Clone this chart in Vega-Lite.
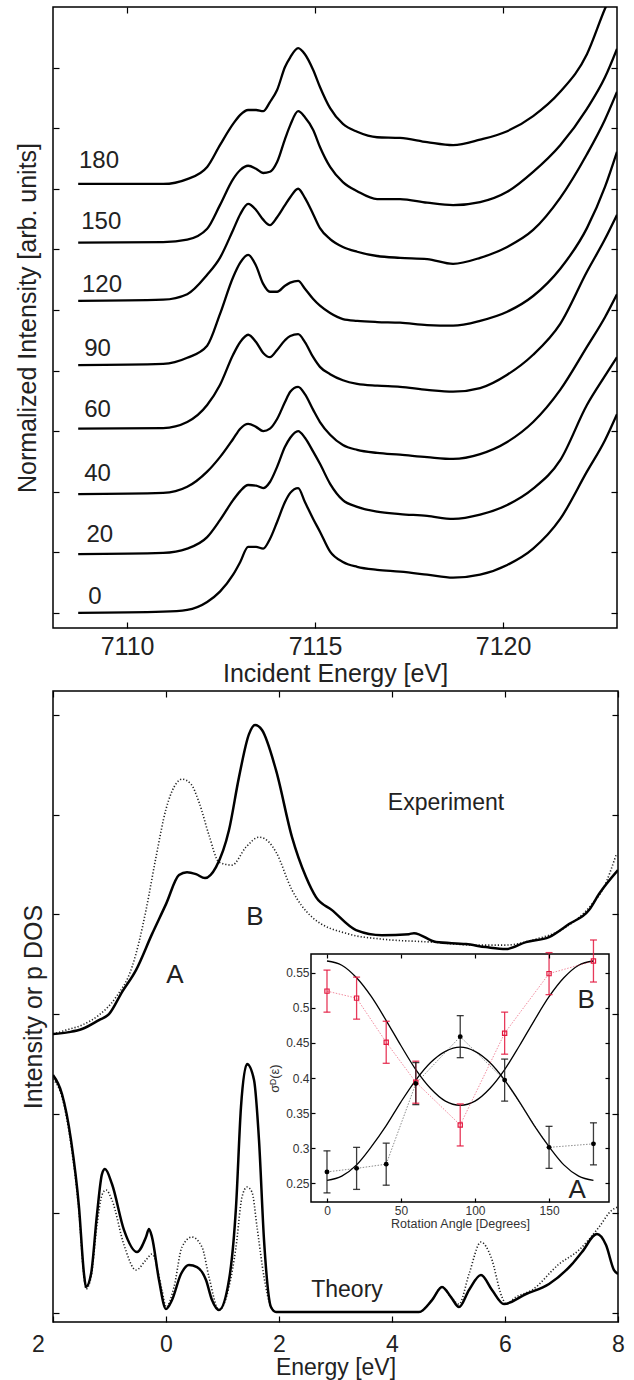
{
"$schema":"https://vega.github.io/schema/vega-lite/v6.json",
"padding":{"left":14,"top":5,"right":0,"bottom":0},
"background":"white",
"spacing":2,
"config":{
 "font":"Liberation Sans",
 "view":{"stroke":"#000","strokeWidth":1.5},
 "axis":{"grid":false,"domainColor":"#000","tickColor":"#000","tickWidth":1.2,"tickSize":-6,"labelColor":"#222","titleColor":"#222","labelFont":"Liberation Sans","titleFont":"Liberation Sans","titleFontWeight":"normal","labelFontSize":25,"titleFontSize":25,"labelFlush":false}
},
"datasets":{
"xanes":[
{"a":"180","e":7108.70,"i":7.08},{"a":"180","e":7110.96,"i":7.08},{"a":"180","e":7111.60,"i":7.16},{"a":"180","e":7112.13,"i":7.36},{"a":"180","e":7112.47,"i":7.72},{"a":"180","e":7112.82,"i":8.07},{"a":"180","e":7113.01,"i":8.22},{"a":"180","e":7113.22,"i":8.30},{"a":"180","e":7113.43,"i":8.30},{"a":"180","e":7113.62,"i":8.28},{"a":"180","e":7113.80,"i":8.43},{"a":"180","e":7113.99,"i":8.63},{"a":"180","e":7114.20,"i":9.01},{"a":"180","e":7114.34,"i":9.17},{"a":"180","e":7114.55,"i":9.32},{"a":"180","e":7114.73,"i":9.22},{"a":"180","e":7114.95,"i":8.96},{"a":"180","e":7115.13,"i":8.68},{"a":"180","e":7115.40,"i":8.33},{"a":"180","e":7115.74,"i":8.07},{"a":"180","e":7116.12,"i":7.94},{"a":"180","e":7116.65,"i":7.85},{"a":"180","e":7117.26,"i":7.84},{"a":"180","e":7117.98,"i":7.77},{"a":"180","e":7118.67,"i":7.72},{"a":"180","e":7119.39,"i":7.81},{"a":"180","e":7120.11,"i":7.95},{"a":"180","e":7120.80,"i":8.20},{"a":"180","e":7121.52,"i":8.60},{"a":"180","e":7122.23,"i":9.22},{"a":"180","e":7122.71,"i":9.97},{"a":"180","e":7123.03,"i":10.41},
{"a":"150","e":7108.70,"i":6.11},{"a":"150","e":7110.96,"i":6.12},{"a":"150","e":7111.60,"i":6.16},{"a":"150","e":7112.13,"i":6.34},{"a":"150","e":7112.47,"i":6.73},{"a":"150","e":7112.82,"i":7.16},{"a":"150","e":7113.01,"i":7.31},{"a":"150","e":7113.22,"i":7.38},{"a":"150","e":7113.43,"i":7.33},{"a":"150","e":7113.62,"i":7.26},{"a":"150","e":7113.80,"i":7.28},{"a":"150","e":7113.99,"i":7.44},{"a":"150","e":7114.20,"i":7.82},{"a":"150","e":7114.34,"i":8.05},{"a":"150","e":7114.55,"i":8.28},{"a":"150","e":7114.73,"i":8.18},{"a":"150","e":7114.95,"i":7.97},{"a":"150","e":7115.13,"i":7.69},{"a":"150","e":7115.40,"i":7.36},{"a":"150","e":7115.74,"i":7.11},{"a":"150","e":7116.12,"i":6.96},{"a":"150","e":7116.65,"i":6.83},{"a":"150","e":7117.26,"i":6.83},{"a":"150","e":7117.98,"i":6.77},{"a":"150","e":7118.67,"i":6.73},{"a":"150","e":7119.39,"i":6.78},{"a":"150","e":7120.11,"i":6.95},{"a":"150","e":7120.80,"i":7.28},{"a":"150","e":7121.52,"i":7.72},{"a":"150","e":7122.23,"i":8.32},{"a":"150","e":7122.71,"i":8.84},{"a":"150","e":7123.03,"i":9.31},
{"a":"120","e":7108.70,"i":5.15},{"a":"120","e":7110.96,"i":5.17},{"a":"120","e":7111.60,"i":5.26},{"a":"120","e":7112.13,"i":5.58},{"a":"120","e":7112.47,"i":5.86},{"a":"120","e":7112.82,"i":6.32},{"a":"120","e":7113.01,"i":6.58},{"a":"120","e":7113.22,"i":6.75},{"a":"120","e":7113.43,"i":6.65},{"a":"120","e":7113.62,"i":6.49},{"a":"120","e":7113.80,"i":6.40},{"a":"120","e":7113.99,"i":6.53},{"a":"120","e":7114.20,"i":6.73},{"a":"120","e":7114.34,"i":6.86},{"a":"120","e":7114.55,"i":7.00},{"a":"120","e":7114.73,"i":6.85},{"a":"120","e":7114.95,"i":6.58},{"a":"120","e":7115.13,"i":6.35},{"a":"120","e":7115.40,"i":6.17},{"a":"120","e":7115.74,"i":6.04},{"a":"120","e":7116.12,"i":5.96},{"a":"120","e":7116.65,"i":5.89},{"a":"120","e":7117.26,"i":5.86},{"a":"120","e":7117.98,"i":5.84},{"a":"120","e":7118.67,"i":5.76},{"a":"120","e":7119.39,"i":5.86},{"a":"120","e":7120.11,"i":6.04},{"a":"120","e":7120.80,"i":6.32},{"a":"120","e":7121.52,"i":6.85},{"a":"120","e":7122.23,"i":7.57},{"a":"120","e":7122.71,"i":8.14},{"a":"120","e":7123.03,"i":8.60},
{"a":"90","e":7108.70,"i":4.09},{"a":"90","e":7110.96,"i":4.11},{"a":"90","e":7111.60,"i":4.21},{"a":"90","e":7112.13,"i":4.41},{"a":"90","e":7112.47,"i":4.93},{"a":"90","e":7112.82,"i":5.54},{"a":"90","e":7113.01,"i":5.78},{"a":"90","e":7113.22,"i":5.91},{"a":"90","e":7113.43,"i":5.73},{"a":"90","e":7113.62,"i":5.43},{"a":"90","e":7113.80,"i":5.30},{"a":"90","e":7113.99,"i":5.30},{"a":"90","e":7114.20,"i":5.40},{"a":"90","e":7114.34,"i":5.45},{"a":"90","e":7114.55,"i":5.48},{"a":"90","e":7114.73,"i":5.35},{"a":"90","e":7114.95,"i":5.18},{"a":"90","e":7115.13,"i":5.07},{"a":"90","e":7115.40,"i":4.95},{"a":"90","e":7115.74,"i":4.85},{"a":"90","e":7116.12,"i":4.82},{"a":"90","e":7116.65,"i":4.80},{"a":"90","e":7117.26,"i":4.79},{"a":"90","e":7117.98,"i":4.75},{"a":"90","e":7118.67,"i":4.74},{"a":"90","e":7119.39,"i":4.82},{"a":"90","e":7120.11,"i":4.97},{"a":"90","e":7120.80,"i":5.23},{"a":"90","e":7121.52,"i":5.68},{"a":"90","e":7122.23,"i":6.35},{"a":"90","e":7122.71,"i":7.03},{"a":"90","e":7123.03,"i":7.61},
{"a":"60","e":7108.70,"i":3.04},{"a":"60","e":7110.96,"i":3.05},{"a":"60","e":7111.60,"i":3.15},{"a":"60","e":7112.13,"i":3.43},{"a":"60","e":7112.47,"i":3.76},{"a":"60","e":7112.82,"i":4.26},{"a":"60","e":7113.01,"i":4.47},{"a":"60","e":7113.22,"i":4.59},{"a":"60","e":7113.43,"i":4.47},{"a":"60","e":7113.62,"i":4.29},{"a":"60","e":7113.80,"i":4.22},{"a":"60","e":7113.99,"i":4.34},{"a":"60","e":7114.20,"i":4.50},{"a":"60","e":7114.34,"i":4.57},{"a":"60","e":7114.55,"i":4.60},{"a":"60","e":7114.73,"i":4.47},{"a":"60","e":7114.95,"i":4.22},{"a":"60","e":7115.13,"i":4.06},{"a":"60","e":7115.40,"i":3.94},{"a":"60","e":7115.74,"i":3.84},{"a":"60","e":7116.12,"i":3.78},{"a":"60","e":7116.65,"i":3.75},{"a":"60","e":7117.26,"i":3.73},{"a":"60","e":7117.98,"i":3.68},{"a":"60","e":7118.67,"i":3.65},{"a":"60","e":7119.39,"i":3.71},{"a":"60","e":7120.11,"i":3.93},{"a":"60","e":7120.80,"i":4.26},{"a":"60","e":7121.52,"i":4.77},{"a":"60","e":7122.23,"i":5.63},{"a":"60","e":7122.71,"i":6.17},{"a":"60","e":7123.03,"i":6.57},
{"a":"40","e":7108.70,"i":1.96},{"a":"40","e":7110.96,"i":1.98},{"a":"40","e":7111.60,"i":2.08},{"a":"40","e":7112.13,"i":2.33},{"a":"40","e":7112.47,"i":2.57},{"a":"40","e":7112.82,"i":2.87},{"a":"40","e":7113.01,"i":3.04},{"a":"40","e":7113.22,"i":3.12},{"a":"40","e":7113.43,"i":3.07},{"a":"40","e":7113.62,"i":3.00},{"a":"40","e":7113.80,"i":3.04},{"a":"40","e":7113.99,"i":3.20},{"a":"40","e":7114.20,"i":3.48},{"a":"40","e":7114.34,"i":3.65},{"a":"40","e":7114.55,"i":3.73},{"a":"40","e":7114.73,"i":3.61},{"a":"40","e":7114.95,"i":3.35},{"a":"40","e":7115.13,"i":3.15},{"a":"40","e":7115.40,"i":2.94},{"a":"40","e":7115.74,"i":2.77},{"a":"40","e":7116.12,"i":2.69},{"a":"40","e":7116.65,"i":2.64},{"a":"40","e":7117.26,"i":2.61},{"a":"40","e":7117.98,"i":2.57},{"a":"40","e":7118.67,"i":2.54},{"a":"40","e":7119.39,"i":2.62},{"a":"40","e":7120.11,"i":2.82},{"a":"40","e":7120.80,"i":3.15},{"a":"40","e":7121.52,"i":3.68},{"a":"40","e":7122.23,"i":4.39},{"a":"40","e":7122.71,"i":4.88},{"a":"40","e":7123.03,"i":5.26},
{"a":"20","e":7108.70,"i":0.97},{"a":"20","e":7110.96,"i":0.99},{"a":"20","e":7111.60,"i":1.06},{"a":"20","e":7112.13,"i":1.25},{"a":"20","e":7112.47,"i":1.53},{"a":"20","e":7112.82,"i":1.86},{"a":"20","e":7113.01,"i":2.01},{"a":"20","e":7113.22,"i":2.11},{"a":"20","e":7113.43,"i":2.10},{"a":"20","e":7113.62,"i":2.06},{"a":"20","e":7113.80,"i":2.16},{"a":"20","e":7113.99,"i":2.41},{"a":"20","e":7114.20,"i":2.74},{"a":"20","e":7114.34,"i":2.89},{"a":"20","e":7114.55,"i":3.00},{"a":"20","e":7114.73,"i":2.89},{"a":"20","e":7114.95,"i":2.66},{"a":"20","e":7115.13,"i":2.46},{"a":"20","e":7115.40,"i":2.13},{"a":"20","e":7115.74,"i":1.86},{"a":"20","e":7116.12,"i":1.75},{"a":"20","e":7116.65,"i":1.67},{"a":"20","e":7117.26,"i":1.63},{"a":"20","e":7117.98,"i":1.60},{"a":"20","e":7118.67,"i":1.55},{"a":"20","e":7119.39,"i":1.62},{"a":"20","e":7120.11,"i":1.78},{"a":"20","e":7120.80,"i":2.05},{"a":"20","e":7121.52,"i":2.52},{"a":"20","e":7122.23,"i":3.43},{"a":"20","e":7122.71,"i":3.91},{"a":"20","e":7123.03,"i":4.22},
{"a":"0","e":7108.70,"i":0.00},{"a":"0","e":7110.96,"i":0.02},{"a":"0","e":7111.60,"i":0.05},{"a":"0","e":7112.13,"i":0.18},{"a":"0","e":7112.47,"i":0.35},{"a":"0","e":7112.82,"i":0.63},{"a":"0","e":7113.01,"i":0.84},{"a":"0","e":7113.22,"i":1.09},{"a":"0","e":7113.43,"i":1.09},{"a":"0","e":7113.62,"i":1.06},{"a":"0","e":7113.80,"i":1.22},{"a":"0","e":7113.99,"i":1.50},{"a":"0","e":7114.20,"i":1.83},{"a":"0","e":7114.34,"i":1.98},{"a":"0","e":7114.55,"i":2.06},{"a":"0","e":7114.73,"i":1.83},{"a":"0","e":7114.95,"i":1.55},{"a":"0","e":7115.13,"i":1.34},{"a":"0","e":7115.40,"i":1.01},{"a":"0","e":7115.74,"i":0.84},{"a":"0","e":7116.12,"i":0.76},{"a":"0","e":7116.65,"i":0.71},{"a":"0","e":7117.26,"i":0.68},{"a":"0","e":7117.98,"i":0.63},{"a":"0","e":7118.67,"i":0.58},{"a":"0","e":7119.39,"i":0.63},{"a":"0","e":7120.11,"i":0.79},{"a":"0","e":7120.80,"i":1.06},{"a":"0","e":7121.52,"i":1.55},{"a":"0","e":7122.23,"i":2.33},{"a":"0","e":7122.71,"i":2.85},{"a":"0","e":7123.03,"i":3.28}
],
"xlab":[
{"t":"180","e":7108.72,"i":7.46},{"t":"150","e":7108.78,"i":6.45},{"t":"120","e":7108.80,"i":5.41},{"t":"90","e":7108.86,"i":4.36},{"t":"60","e":7108.86,"i":3.35},{"t":"40","e":7108.86,"i":2.29},{"t":"20","e":7108.92,"i":1.29},{"t":"0","e":7108.97,"i":0.26}
],
"dos":[
{"s":"exp","x":-2.000,"y":2.798},{"s":"exp","x":-1.717,"y":2.818},{"s":"exp","x":-1.487,"y":2.849},{"s":"exp","x":-1.186,"y":2.939},{"s":"exp","x":-1.009,"y":2.999},{"s":"exp","x":-0.779,"y":3.220},{"s":"exp","x":-0.531,"y":3.440},{"s":"exp","x":-0.248,"y":3.801},{"s":"exp","x":0.000,"y":4.102},{"s":"exp","x":0.230,"y":4.393},{"s":"exp","x":0.372,"y":4.423},{"s":"exp","x":0.531,"y":4.403},{"s":"exp","x":0.690,"y":4.363},{"s":"exp","x":0.885,"y":4.473},{"s":"exp","x":1.115,"y":4.845},{"s":"exp","x":1.292,"y":5.376},{"s":"exp","x":1.469,"y":5.807},{"s":"exp","x":1.575,"y":5.898},{"s":"exp","x":1.699,"y":5.848},{"s":"exp","x":1.947,"y":5.446},{"s":"exp","x":2.230,"y":4.774},{"s":"exp","x":2.478,"y":4.373},{"s":"exp","x":2.655,"y":4.172},{"s":"exp","x":2.938,"y":4.042},{"s":"exp","x":3.363,"y":3.842},{"s":"exp","x":3.823,"y":3.791},{"s":"exp","x":4.301,"y":3.801},{"s":"exp","x":4.389,"y":3.811},{"s":"exp","x":4.779,"y":3.721},{"s":"exp","x":5.310,"y":3.701},{"s":"exp","x":5.664,"y":3.671},{"s":"exp","x":6.018,"y":3.651},{"s":"exp","x":6.372,"y":3.721},{"s":"exp","x":6.779,"y":3.771},{"s":"exp","x":7.133,"y":3.902},{"s":"exp","x":7.487,"y":4.042},{"s":"exp","x":7.664,"y":4.203},{"s":"exp","x":8.000,"y":4.443},
{"s":"expd","x":-2.000,"y":2.798},{"s":"expd","x":-1.770,"y":2.838},{"s":"expd","x":-1.487,"y":2.889},{"s":"expd","x":-1.186,"y":2.989},{"s":"expd","x":-0.885,"y":3.169},{"s":"expd","x":-0.602,"y":3.470},{"s":"expd","x":-0.478,"y":3.721},{"s":"expd","x":-0.354,"y":4.042},{"s":"expd","x":-0.177,"y":4.574},{"s":"expd","x":0.000,"y":5.055},{"s":"expd","x":0.142,"y":5.276},{"s":"expd","x":0.283,"y":5.356},{"s":"expd","x":0.442,"y":5.306},{"s":"expd","x":0.584,"y":5.125},{"s":"expd","x":0.761,"y":4.794},{"s":"expd","x":0.938,"y":4.524},{"s":"expd","x":1.168,"y":4.493},{"s":"expd","x":1.416,"y":4.674},{"s":"expd","x":1.646,"y":4.774},{"s":"expd","x":1.823,"y":4.724},{"s":"expd","x":1.947,"y":4.624},{"s":"expd","x":2.230,"y":4.243},{"s":"expd","x":2.584,"y":3.972},{"s":"expd","x":3.239,"y":3.801},{"s":"expd","x":3.823,"y":3.751},{"s":"expd","x":4.708,"y":3.721},{"s":"expd","x":5.487,"y":3.691},{"s":"expd","x":6.018,"y":3.691},{"s":"expd","x":6.478,"y":3.741},{"s":"expd","x":7.080,"y":3.872},{"s":"expd","x":7.540,"y":4.102},{"s":"expd","x":7.752,"y":4.273},{"s":"expd","x":7.965,"y":4.594},
{"s":"th","x":-2.000,"y":2.387},{"s":"th","x":-1.841,"y":2.197},{"s":"th","x":-1.681,"y":1.735},{"s":"th","x":-1.540,"y":1.063},{"s":"th","x":-1.451,"y":0.391},{"s":"th","x":-1.416,"y":0.261},{"s":"th","x":-1.327,"y":0.391},{"s":"th","x":-1.221,"y":0.993},{"s":"th","x":-1.133,"y":1.394},{"s":"th","x":-1.080,"y":1.444},{"s":"th","x":-0.956,"y":1.294},{"s":"th","x":-0.743,"y":0.832},{"s":"th","x":-0.513,"y":0.612},{"s":"th","x":-0.354,"y":0.762},{"s":"th","x":-0.301,"y":0.843},{"s":"th","x":-0.248,"y":0.762},{"s":"th","x":-0.124,"y":0.331},{"s":"th","x":0.000,"y":0.040},{"s":"th","x":0.106,"y":0.130},{"s":"th","x":0.265,"y":0.391},{"s":"th","x":0.407,"y":0.481},{"s":"th","x":0.549,"y":0.461},{"s":"th","x":0.708,"y":0.331},{"s":"th","x":0.814,"y":0.130},{"s":"th","x":0.938,"y":0.030},{"s":"th","x":1.115,"y":0.331},{"s":"th","x":1.239,"y":1.063},{"s":"th","x":1.327,"y":2.066},{"s":"th","x":1.434,"y":2.497},{"s":"th","x":1.558,"y":2.337},{"s":"th","x":1.646,"y":1.735},{"s":"th","x":1.735,"y":0.732},{"s":"th","x":1.858,"y":0.060},{"s":"th","x":1.947,"y":0.010},{"s":"th","x":4.478,"y":0.010},{"s":"th","x":4.708,"y":0.130},{"s":"th","x":4.885,"y":0.261},{"s":"th","x":5.044,"y":0.160},{"s":"th","x":5.186,"y":0.060},{"s":"th","x":5.363,"y":0.231},{"s":"th","x":5.575,"y":0.381},{"s":"th","x":5.770,"y":0.231},{"s":"th","x":5.982,"y":0.090},{"s":"th","x":6.372,"y":0.191},{"s":"th","x":6.779,"y":0.291},{"s":"th","x":7.186,"y":0.491},{"s":"th","x":7.363,"y":0.612},{"s":"th","x":7.628,"y":0.792},{"s":"th","x":7.788,"y":0.682},{"s":"th","x":7.929,"y":0.431},{"s":"th","x":8.000,"y":0.391},
{"s":"thd","x":-2.000,"y":2.347},{"s":"thd","x":-1.841,"y":2.167},{"s":"thd","x":-1.681,"y":1.685},{"s":"thd","x":-1.540,"y":1.013},{"s":"thd","x":-1.451,"y":0.361},{"s":"thd","x":-1.416,"y":0.241},{"s":"thd","x":-1.327,"y":0.361},{"s":"thd","x":-1.221,"y":0.883},{"s":"thd","x":-1.133,"y":1.184},{"s":"thd","x":-1.062,"y":1.234},{"s":"thd","x":-0.956,"y":1.133},{"s":"thd","x":-0.743,"y":0.682},{"s":"thd","x":-0.531,"y":0.431},{"s":"thd","x":-0.354,"y":0.532},{"s":"thd","x":-0.248,"y":0.592},{"s":"thd","x":-0.071,"y":0.231},{"s":"thd","x":0.000,"y":0.060},{"s":"thd","x":0.142,"y":0.261},{"s":"thd","x":0.283,"y":0.662},{"s":"thd","x":0.460,"y":0.762},{"s":"thd","x":0.637,"y":0.662},{"s":"thd","x":0.761,"y":0.361},{"s":"thd","x":0.938,"y":0.030},{"s":"thd","x":1.115,"y":0.261},{"s":"thd","x":1.239,"y":0.662},{"s":"thd","x":1.345,"y":1.163},{"s":"thd","x":1.434,"y":1.264},{"s":"thd","x":1.522,"y":1.214},{"s":"thd","x":1.611,"y":0.863},{"s":"thd","x":1.735,"y":0.361},{"s":"thd","x":1.858,"y":0.060},{"s":"thd","x":1.947,"y":0.010},{"s":"thd","x":4.478,"y":0.010},{"s":"thd","x":4.708,"y":0.130},{"s":"thd","x":4.885,"y":0.261},{"s":"thd","x":5.044,"y":0.160},{"s":"thd","x":5.186,"y":0.090},{"s":"thd","x":5.363,"y":0.391},{"s":"thd","x":5.575,"y":0.712},{"s":"thd","x":5.752,"y":0.562},{"s":"thd","x":5.947,"y":0.160},{"s":"thd","x":6.018,"y":0.090},{"s":"thd","x":6.195,"y":0.160},{"s":"thd","x":6.478,"y":0.231},{"s":"thd","x":6.956,"y":0.491},{"s":"thd","x":7.310,"y":0.632},{"s":"thd","x":7.664,"y":0.863},{"s":"thd","x":7.894,"y":1.033},{"s":"thd","x":8.000,"y":1.063}
],
"words":[{"t":"Experiment","x":4.956,"y":5.115},{"t":"Theory","x":3.204,"y":0.231}],
"letters":[{"t":"A","x":0.159,"y":3.390},{"t":"B","x":1.575,"y":3.972}],
"fit":[
{"c":"A","ang":0,"v":0.254},{"c":"A","ang":10,"v":0.260},{"c":"A","ang":20,"v":0.276},{"c":"A","ang":30,"v":0.302},{"c":"A","ang":40,"v":0.332},{"c":"A","ang":50,"v":0.366},{"c":"A","ang":60,"v":0.397},{"c":"A","ang":70,"v":0.422},{"c":"A","ang":80,"v":0.438},{"c":"A","ang":90,"v":0.444},{"c":"A","ang":100,"v":0.438},{"c":"A","ang":110,"v":0.422},{"c":"A","ang":120,"v":0.397},{"c":"A","ang":130,"v":0.366},{"c":"A","ang":140,"v":0.332},{"c":"A","ang":150,"v":0.302},{"c":"A","ang":160,"v":0.276},{"c":"A","ang":170,"v":0.260},{"c":"A","ang":180,"v":0.254},
{"c":"B","ang":0,"v":0.567},{"c":"B","ang":10,"v":0.561},{"c":"B","ang":20,"v":0.543},{"c":"B","ang":30,"v":0.516},{"c":"B","ang":40,"v":0.482},{"c":"B","ang":50,"v":0.446},{"c":"B","ang":60,"v":0.412},{"c":"B","ang":70,"v":0.385},{"c":"B","ang":80,"v":0.367},{"c":"B","ang":90,"v":0.361},{"c":"B","ang":100,"v":0.367},{"c":"B","ang":110,"v":0.385},{"c":"B","ang":120,"v":0.412},{"c":"B","ang":130,"v":0.446},{"c":"B","ang":140,"v":0.482},{"c":"B","ang":150,"v":0.516},{"c":"B","ang":160,"v":0.543},{"c":"B","ang":170,"v":0.561},{"c":"B","ang":180,"v":0.567}
],
"pts":[
{"c":"B","ang":0,"v":0.524,"lo":0.494,"hi":0.554},{"c":"B","ang":20,"v":0.514,"lo":0.484,"hi":0.544},{"c":"B","ang":40,"v":0.451,"lo":0.421,"hi":0.481},{"c":"B","ang":60,"v":0.394,"lo":0.364,"hi":0.424},{"c":"B","ang":90,"v":0.333,"lo":0.303,"hi":0.363},{"c":"B","ang":120,"v":0.464,"lo":0.434,"hi":0.494},{"c":"B","ang":150,"v":0.549,"lo":0.519,"hi":0.579},{"c":"B","ang":180,"v":0.567,"lo":0.537,"hi":0.597},
{"c":"A","ang":0,"v":0.266,"lo":0.236,"hi":0.296},{"c":"A","ang":20,"v":0.271,"lo":0.241,"hi":0.301},{"c":"A","ang":40,"v":0.277,"lo":0.247,"hi":0.307},{"c":"A","ang":60,"v":0.392,"lo":0.362,"hi":0.422},{"c":"A","ang":90,"v":0.459,"lo":0.429,"hi":0.489},{"c":"A","ang":120,"v":0.397,"lo":0.367,"hi":0.427},{"c":"A","ang":150,"v":0.301,"lo":0.271,"hi":0.331},{"c":"A","ang":180,"v":0.306,"lo":0.276,"hi":0.336}
],
"inlab":[{"t":"B","ang":175,"v":0.511},{"t":"A","ang":169,"v":0.240}]
},
"vconcat":[
{
 "width":564,"height":621,
 "layer":[
  {"layer":[
   {"data":{"name":"xanes"},
    "mark":{"type":"line","clip":true,"color":"#000","strokeWidth":2.3,"interpolate":"monotone"},
    "encoding":{
     "x":{"field":"e","type":"quantitative","scale":{"domain":[7108.03,7123.03],"nice":false,"zero":false},
          "axis":{"orient":"bottom","values":[7110,7115,7120],"format":"d","title":"Incident Energy [eV]","labelPadding":12,"titlePadding":2,"domain":false}},
     "y":{"field":"i","type":"quantitative","scale":{"domain":[-0.25,10],"nice":false,"zero":false},
          "axis":{"orient":"left","values":[0,1,2,3,4,5,6,7,8,9],"labels":false,"title":"Normalized Intensity [arb. units]","titlePadding":12,"domain":false}},
     "detail":{"field":"a","type":"nominal"}}},
   {"data":{"name":"xlab"},
    "mark":{"type":"text","align":"left","baseline":"middle","fontSize":24,"color":"#222"},
    "encoding":{"x":{"field":"e","type":"quantitative"},"y":{"field":"i","type":"quantitative"},"text":{"field":"t","type":"nominal"}}}
  ]},
  {"data":{"values":[{"e":7115,"i":5}]},
   "mark":{"type":"point","opacity":0},
   "encoding":{
    "x":{"field":"e","type":"quantitative","scale":{"domain":[7108.03,7123.03],"nice":false,"zero":false},"axis":{"orient":"top","values":[7110,7115,7120],"labels":false,"title":null,"domain":false}},
    "y":{"field":"i","type":"quantitative","scale":{"domain":[-0.25,10],"nice":false,"zero":false},"axis":{"orient":"right","values":[0,1,2,3,4,5,6,7,8,9],"labels":false,"title":null,"domain":false}}}}
 ],
 "resolve":{"scale":{"x":"independent","y":"independent"}}
},
{
 "width":565,"height":631,
 "layer":[
  {"layer":[
   {"data":{"name":"dos"},
    "transform":[{"filter":"datum.s == 'expd' || datum.s == 'thd'"}],
    "mark":{"type":"line","clip":true,"color":"#222","strokeWidth":1.6,"strokeDash":[1.2,2],"interpolate":"monotone"},
    "encoding":{
     "x":{"field":"x","type":"quantitative","scale":{"domain":[-2,8],"nice":false,"zero":false},
          "axis":{"orient":"bottom","values":[-2,0,2,4,6,8],"labelExpr":"'' + abs(datum.value)","labelOffset":{"condition":{"test":"datum.value == -2","value":-15},"value":0},"title":"Energy [eV]","labelFontSize":23,"titleFontSize":23,"labelPadding":17,"titlePadding":0,"domain":false}},
     "y":{"field":"y","type":"quantitative","scale":{"domain":[-0.09,6.24],"nice":false,"zero":false},
          "axis":{"orient":"left","values":[0,1,2,3,4,5,6],"labels":false,"title":"Intensity or p DOS","titlePadding":6,"domain":false}},
     "detail":{"field":"s","type":"nominal"}}},
   {"data":{"name":"dos"},
    "transform":[{"filter":"datum.s == 'exp' || datum.s == 'th'"}],
    "mark":{"type":"line","clip":true,"color":"#000","strokeWidth":2.5,"interpolate":"monotone"},
    "encoding":{"x":{"field":"x","type":"quantitative"},"y":{"field":"y","type":"quantitative"},"detail":{"field":"s","type":"nominal"}}},
   {"data":{"name":"words"},
    "mark":{"type":"text","fontSize":23,"color":"#222","baseline":"middle"},
    "encoding":{"x":{"field":"x","type":"quantitative"},"y":{"field":"y","type":"quantitative"},"text":{"field":"t","type":"nominal"}}},
   {"data":{"name":"letters"},
    "mark":{"type":"text","fontSize":26,"color":"#222","baseline":"middle"},
    "encoding":{"x":{"field":"x","type":"quantitative"},"y":{"field":"y","type":"quantitative"},"text":{"field":"t","type":"nominal"}}}
  ]},
  {"data":{"values":[{"x":3,"y":3}]},
   "mark":{"type":"point","opacity":0},
   "encoding":{
    "x":{"field":"x","type":"quantitative","scale":{"domain":[-2,8],"nice":false,"zero":false},"axis":{"orient":"top","values":[-2,0,2,4,6,8],"labels":false,"title":null,"domain":false}},
    "y":{"field":"y","type":"quantitative","scale":{"domain":[-0.09,6.24],"nice":false,"zero":false},"axis":{"orient":"right","values":[0,1,2,3,4,5,6],"labels":false,"title":null,"domain":false}}}},
  {"layer":[
   {"data":{"values":[{"x1":-10.8,"x2":190.5,"y1":0.223,"y2":0.577}]},
    "mark":{"type":"rect","fill":"white","stroke":"#000","strokeWidth":1.5},
    "encoding":{
     "x":{"field":"x1","type":"quantitative","scale":{"domain":[-10.8,190.5],"range":[258,556],"nice":false,"zero":false},
          "axis":{"orient":"bottom","offset":-120,"values":[0,50,100,150],"format":"d","title":"Rotation Angle [Degrees]","labelFontSize":12,"titleFontSize":12.5,"tickSize":-4,"labelPadding":7,"titlePadding":1,"zindex":1,"domain":false,"labelColor":"#333","titleColor":"#333"}},
     "x2":{"field":"x2"},
     "y":{"field":"y1","type":"quantitative","scale":{"domain":[0.223,0.577],"range":[511,263],"nice":false,"zero":false},
          "axis":{"orient":"left","offset":-258,"values":[0.25,0.3,0.35,0.4,0.45,0.5,0.55],"format":"~g","title":"σᴰ(ε)","labelFontSize":12,"titleFontSize":13,"tickSize":-4,"labelPadding":6,"titlePadding":4,"zindex":1,"domain":false,"labelColor":"#333","titleColor":"#333"}},
     "y2":{"field":"y2"}}},
   {"data":{"name":"fit"},
    "mark":{"type":"line","color":"#000","strokeWidth":1.3,"interpolate":"monotone"},
    "encoding":{"x":{"field":"ang","type":"quantitative"},"y":{"field":"v","type":"quantitative"},"detail":{"field":"c","type":"nominal"}}},
   {"data":{"name":"pts"},
    "mark":{"type":"line","strokeWidth":1,"strokeDash":[1.5,1.5],"opacity":0.5},
    "encoding":{"x":{"field":"ang","type":"quantitative"},"y":{"field":"v","type":"quantitative"},
     "color":{"field":"c","type":"nominal","scale":{"domain":["A","B"],"range":["#1a1a1a","#e3173e"]},"legend":null}}},
   {"data":{"name":"pts"},
    "mark":{"type":"rule","strokeWidth":1.3,"opacity":0.85},
    "encoding":{"x":{"field":"ang","type":"quantitative"},"y":{"field":"lo","type":"quantitative"},"y2":{"field":"hi"},
     "color":{"field":"c","type":"nominal","legend":null}}},
   {"data":{"name":"pts"},
    "mark":{"type":"tick","orient":"horizontal","size":7,"thickness":1.3,"opacity":0.85},
    "encoding":{"x":{"field":"ang","type":"quantitative"},"y":{"field":"lo","type":"quantitative"},
     "color":{"field":"c","type":"nominal","legend":null}}},
   {"data":{"name":"pts"},
    "mark":{"type":"tick","orient":"horizontal","size":7,"thickness":1.3,"opacity":0.85},
    "encoding":{"x":{"field":"ang","type":"quantitative"},"y":{"field":"hi","type":"quantitative"},
     "color":{"field":"c","type":"nominal","legend":null}}},
   {"data":{"name":"pts"},
    "transform":[{"filter":"datum.c == 'B'"}],
    "mark":{"type":"point","shape":"square","filled":false,"size":18,"strokeWidth":1.2,"color":"#e3173e","opacity":1},
    "encoding":{"x":{"field":"ang","type":"quantitative"},"y":{"field":"v","type":"quantitative"}}},
   {"data":{"name":"pts"},
    "transform":[{"filter":"datum.c == 'A'"}],
    "mark":{"type":"point","shape":"circle","filled":true,"size":24,"color":"#000","opacity":1},
    "encoding":{"x":{"field":"ang","type":"quantitative"},"y":{"field":"v","type":"quantitative"}}},
   {"data":{"name":"inlab"},
    "mark":{"type":"text","fontSize":26,"color":"#222","baseline":"middle"},
    "encoding":{"x":{"field":"ang","type":"quantitative"},"y":{"field":"v","type":"quantitative"},"text":{"field":"t","type":"nominal"}}}
  ]},
  {"data":{"values":[{"a":90,"v":0.4}]},
   "mark":{"type":"point","opacity":0},
   "encoding":{
    "x":{"field":"a","type":"quantitative","scale":{"domain":[-10.8,190.5],"range":[258,556],"nice":false,"zero":false},"axis":{"orient":"top","offset":-263,"values":[0,50,100,150],"labels":false,"title":null,"domain":false,"tickSize":-4,"zindex":1}},
    "y":{"field":"v","type":"quantitative","scale":{"domain":[0.223,0.577],"range":[511,263],"nice":false,"zero":false},"axis":{"orient":"right","offset":-9,"values":[0.25,0.3,0.35,0.4,0.45,0.5,0.55],"labels":false,"title":null,"domain":false,"tickSize":-4,"zindex":1}}}}
 ],
 "resolve":{"scale":{"x":"independent","y":"independent"}}
}
]
}
